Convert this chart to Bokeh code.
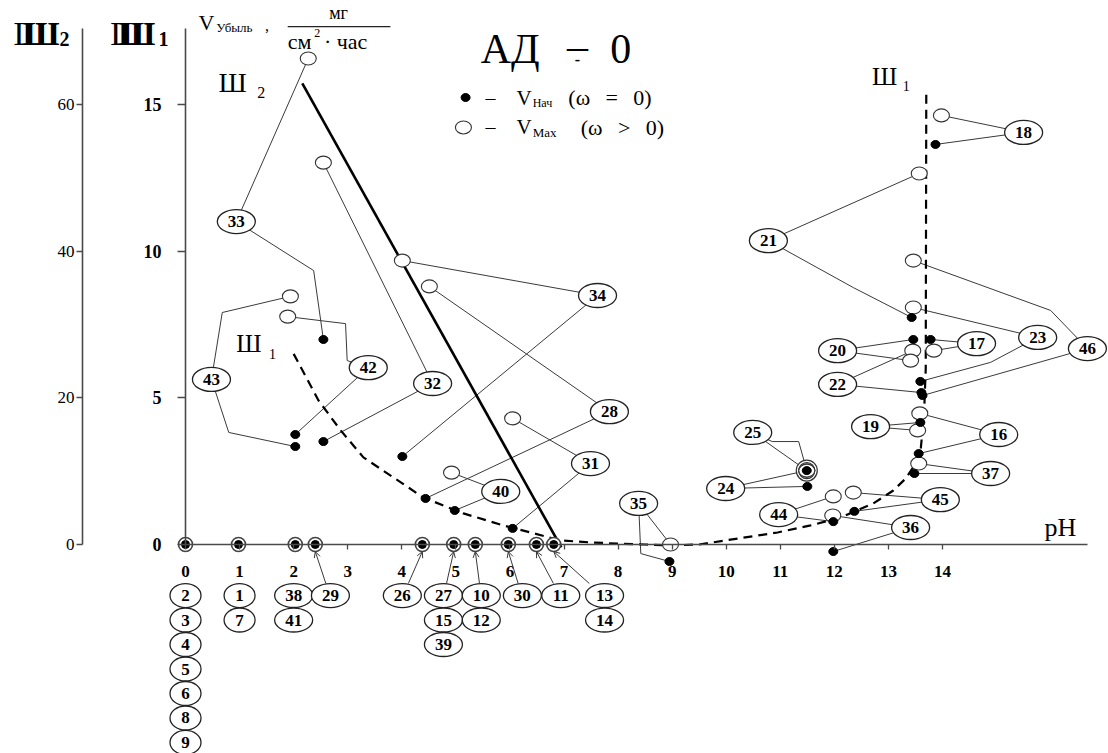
from bokeh.plotting import figure
from bokeh.models import Range1d, LinearAxis, FixedTicker, ColumnDataSource, Arrow, OpenHead
from bokeh.core.properties import value
from bokeh.embed import file_html
from bokeh.resources import INLINE

# ---------------------------------------------------------------- data
# rate scale Ш1 (mg/cm²·h); the outer scale Ш2 is four times larger
SH2_FACTOR = 4.0
sh1_ticks = [0, 5, 10, 15]
sh2_ticks = [0, 20, 40, 60]
ph_ticks = list(range(0, 15))

# Ш2 boundary (solid line)
sh2_ph = [2.16, 6.95]
sh2_v = [15.72, -0.10]

# Ш1 boundary (dashed curve)
sh1_ph = [2.00, 2.46, 2.87, 3.29, 3.85, 4.40, 5.14, 5.88, 6.94, 7.50, 8.00, 8.50,
          9.00, 9.50, 9.99, 10.95, 11.56, 12.11, 12.72, 13.09, 13.32, 13.54,
          13.60, 13.66, 13.69, 13.70]
sh1_v = [6.50, 4.91, 3.89, 2.97, 2.28, 1.60, 1.06, 0.65, 0.14, 0.07, 0.03, 0.00,
         -0.03, 0.00, 0.14, 0.41, 0.65, 0.92, 1.40, 1.84, 2.25, 2.86,
         3.30, 4.50, 6.00, 15.41]

# experiment labels (number and where its tag sits)
lab_id = [33, 32, 43, 42, 34, 28, 31, 40, 35, 25, 24, 44, 36, 45, 37, 16, 19,
          22, 20, 17, 23, 46, 21, 18]
lab_ph = [0.94, 4.57, 0.48, 3.38, 7.62, 7.84, 7.49, 5.83, 8.38, 10.49, 9.99, 10.97,
          13.41, 13.96, 14.89, 15.04, 12.67, 12.06, 12.06, 14.63, 15.76, 16.68,
          10.78, 15.50]
lab_v = [11.01, 5.49, 5.63, 6.03, 8.49, 4.53, 2.76, 1.81, 1.40, 3.82, 1.91, 1.02,
         0.58, 1.53, 2.42, 3.75, 4.02, 5.46, 6.61, 6.85, 7.06, 6.68, 10.36, 14.05]

# V_max (ω > 0), open circles
vmax_id = [33, 32, 43, 42, 34, 28, 31, 40, 35, 25, 24, 44, 36, 45, 37, 16, 19,
           22, 20, 17, 23, 46, 21, 18]
vmax_ph = [2.27, 2.55, 1.94, 1.89, 4.01, 4.51, 6.05, 4.92, 8.97, 11.49, 11.49, 11.98,
           11.97, 12.35, 13.56, 13.58, 13.54, 13.45, 13.41, 13.84, 13.46, 13.46,
           13.57, 13.98]
vmax_v = [16.57, 13.02, 8.46, 7.77, 9.68, 8.80, 4.30, 2.45, 0.00, 2.52, 2.52, 1.64,
          0.99, 1.77, 2.76, 4.47, 3.89, 6.61, 6.27, 6.61, 8.08, 9.68, 12.65, 14.63]

# V_нач (ω = 0), filled dots
vnach_id = [33, 32, 43, 42, 34, 28, 31, 40, 35, 25, 24, 44, 36, 45, 37, 16, 19,
            22, 20, 17, 23, 46, 21, 18]
vnach_ph = [2.55, 2.55, 2.03, 2.03, 4.01, 4.44, 6.05, 4.98, 8.95, 11.49, 11.50, 11.98,
            11.98, 12.37, 13.48, 13.56, 13.59, 13.61, 13.46, 13.78, 13.59, 13.63,
            13.43, 13.87]
vnach_v = [6.99, 3.51, 3.34, 3.75, 3.00, 1.57, 0.55, 1.16, -0.58, 2.52, 1.98, 0.78,
           -0.24, 1.13, 2.42, 3.10, 4.16, 5.18, 6.99, 6.99, 5.56, 5.08, 7.74, 13.64]

# bends of the leader lines, listed from the tag towards the point
bends = {
    (33, "n"): [(2.37, 9.34)],
    (43, "m"): [(0.68, 7.91)],
    (43, "n"): [(0.80, 3.82)],
    (42, "m"): [(2.99, 6.27), (2.96, 7.53)],
    (35, "n"): [(8.42, -0.31)],
    (25, "n"): [(10.85, 3.51), (11.34, 3.51)],
    (23, "n"): [(14.89, 6.21)],
    (46, "m"): [(16.00, 7.98)],
    (21, "n"): [(12.35, 8.76)],
}

# experiments with zero rate: point on the pH axis and the tags stacked below it
zero_ph = [0.00, 0.98, 2.03, 2.40, 4.38, 4.96, 5.36, 5.97, 6.49, 6.81]
zero_groups = [[2, 3, 4, 5, 6, 8, 9], [1, 7], [38, 41], [29], [26], [27, 15, 39],
               [10, 12], [30], [11], [13, 14]]
zero_col_ph = [0.00, 1.00, 2.00, 2.68, 4.01, 4.77, 5.47, 6.23, 6.94, 7.75]
zero_arrow = [False, False, False, True, True, True, True, True, True, True]

# ---------------------------------------------------------------- figure
SERIF = "Liberation Serif"
W, H = 1108, 753
X0, X1 = -3.4215, 17.070
Y0, Y1 = -7.126, 18.548

p = figure(width=W, height=H, x_range=Range1d(X0, X1), y_range=Range1d(Y0, Y1),
           x_axis_location=None, y_axis_location=None, toolbar_location=None,
           output_backend="svg", min_border=0, outline_line_color=None,
           background_fill_color="white", border_fill_color="white")
p.xgrid.grid_line_color = None
p.ygrid.grid_line_color = None
p.extra_y_ranges = {"sh2": Range1d(Y0 * SH2_FACTOR, Y1 * SH2_FACTOR)}

AX_COLOR = "#4a4a4a"


def style_axis(ax, size, bold):
    ax.axis_line_color = AX_COLOR
    ax.axis_line_width = 1.6
    ax.major_tick_line_color = AX_COLOR
    ax.major_tick_line_width = 1.3
    ax.minor_tick_line_color = None
    ax.major_label_text_font = SERIF
    ax.major_label_text_font_size = f"{size}px"
    ax.major_label_text_font_style = "bold" if bold else "normal"
    ax.major_label_text_color = "black"


ax_sh1 = LinearAxis(fixed_location=0, bounds=(0, 17.6), ticker=FixedTicker(ticks=sh1_ticks))
style_axis(ax_sh1, 18, True)
ax_sh1.major_tick_in = 0
ax_sh1.major_tick_out = 8
ax_sh1.major_label_standoff = 16
p.add_layout(ax_sh1, "left")

ax_sh2 = LinearAxis(y_range_name="sh2", fixed_location=-1.905, bounds=(0, 70.4),
                    ticker=FixedTicker(ticks=sh2_ticks))
style_axis(ax_sh2, 17, False)
ax_sh2.major_tick_in = 0
ax_sh2.major_tick_out = 6
ax_sh2.major_label_standoff = 2
p.add_layout(ax_sh2, "left")

ax_ph = LinearAxis(fixed_location=0, bounds=(0, 16.68), ticker=FixedTicker(ticks=ph_ticks))
style_axis(ax_ph, 17, True)
ax_ph.major_tick_in = 0
ax_ph.major_tick_out = 5
ax_ph.major_label_standoff = 17
p.add_layout(ax_ph, "below")


def txt(x, y, s, size, bold=False, align="left", baseline="middle"):
    p.text(x=[x], y=[y], text=[s], text_font=value(SERIF), text_font_size=f"{size}px",
           text_font_style="bold" if bold else "normal", text_align=align,
           text_baseline=baseline, text_color="black")


# ---------------------------------------------------------------- leaders
lab_pos = {i: (x, y) for i, x, y in zip(lab_id, lab_ph, lab_v)}
lxs, lys = [], []
for kind, ids, xs, ys in (("m", vmax_id, vmax_ph, vmax_v), ("n", vnach_id, vnach_ph, vnach_v)):
    for i, x, y in zip(ids, xs, ys):
        path = [lab_pos[i]] + bends.get((i, kind), []) + [(x, y)]
        lxs.append([q[0] for q in path])
        lys.append([q[1] for q in path])
p.multi_line(lxs, lys, line_color="#3a3a3a", line_width=1.0)

# arrows from the stacked tags up to the zero-rate points
ROW0_V = -1.74
ROW_STEP = 0.835
TAG_HALF_V = 0.41
a_src = dict(xs=[], ys=[], xe=[], ye=[])
for px, cx, arrow in zip(zero_ph, zero_col_ph, zero_arrow):
    if not arrow:
        continue
    a_src["xs"].append(cx + 0.3 * (px - cx))
    a_src["ys"].append(ROW0_V + TAG_HALF_V)
    a_src["xe"].append(px)
    a_src["ye"].append(-0.24)
p.add_layout(Arrow(end=OpenHead(size=6, line_width=1.0, line_color="#3a3a3a"),
                   source=ColumnDataSource(a_src), x_start="xs", y_start="ys",
                   x_end="xe", y_end="ye", line_color="#3a3a3a", line_width=1.0))

# ---------------------------------------------------------------- boundaries
p.line(sh2_ph, sh2_v, line_color="black", line_width=2.6)
p.line(sh1_ph, sh1_v, line_color="black", line_width=2.2, line_dash="9 6")

# ---------------------------------------------------------------- points
# zero-rate points on the axis
p.scatter(zero_ph, [0] * len(zero_ph), size=14, marker="circle", fill_color="white",
          line_color="#444444", line_width=1.6)
p.scatter(zero_ph, [0] * len(zero_ph), size=8, marker="circle", fill_color="black",
          line_color="black")

# coincident V_max = V_нач points get extra rings
same_ph, same_v = [], []
nach_pos = {i: (x, y) for i, x, y in zip(vnach_id, vnach_ph, vnach_v)}
for i, x, y in zip(vmax_id, vmax_ph, vmax_v):
    if nach_pos.get(i) == (x, y):
        same_ph.append(x)
        same_v.append(y)
p.scatter(same_ph, same_v, size=21, marker="circle", fill_color="white",
          line_color="#333333", line_width=1.2)
p.scatter(same_ph, same_v, size=16, marker="circle", fill_color="white",
          line_color="#333333", line_width=1.2)

p.ellipse(vmax_ph, vmax_v, width=16, height=13, width_units="screen", height_units="screen",
          fill_color="white", line_color="#333333", line_width=1.1)
p.ellipse(vnach_ph, vnach_v, width=9, height=8, width_units="screen", height_units="screen",
          fill_color="black", line_color="black")

# ---------------------------------------------------------------- experiment tags
tag_x, tag_y, tag_t = [], [], []
for i, x, y in zip(lab_id, lab_ph, lab_v):
    tag_x.append(x)
    tag_y.append(y)
    tag_t.append(str(i))
for col_x, grp in zip(zero_col_ph, zero_groups):
    for k, n in enumerate(grp):
        tag_x.append(col_x)
        tag_y.append(ROW0_V - k * ROW_STEP)
        tag_t.append(str(n))
tag_w = [38 if len(t) > 1 else 31 for t in tag_t]
tags = ColumnDataSource(dict(x=tag_x, y=tag_y, t=tag_t, w=tag_w))
p.ellipse("x", "y", width="w", height=24, width_units="screen", height_units="screen",
          fill_color="white", line_color="#222222", line_width=1.3, source=tags)
p.text("x", "y", text="t", text_font=value(SERIF), text_font_size="17px",
       text_font_style="bold", text_align="center", text_baseline="middle",
       text_color="black", source=tags)

# ---------------------------------------------------------------- texts
# scale titles Ш2 and Ш1 (struck twice)
txt(-3.18, 17.42, "Ш", 34)
txt(-3.02, 17.42, "Ш", 34, bold=True)
txt(-2.33, 17.22, "2", 20, bold=True)
txt(-1.39, 17.42, "Ш", 34)
txt(-1.25, 17.42, "Ш", 34, bold=True)
txt(-0.50, 17.22, "1", 20, bold=True)

# rate unit
txt(0.24, 17.80, "V", 22)
txt(0.57, 17.62, "Убыль", 13)
txt(1.47, 17.70, ",", 16)
txt(2.83, 18.12, "мг", 18, align="center")
p.segment(x0=[1.89], y0=[17.66], x1=[3.79], y1=[17.66], line_color="#222222", line_width=1.3)
txt(1.89, 17.16, "см", 22)
txt(2.38, 17.44, "2", 12)
txt(2.56, 17.16, "· час", 22)

# title
txt(5.46, 16.91, "АД", 42)
txt(7.25, 16.98, "–", 42, align="center")
txt(7.25, 16.55, "-", 16, bold=True, align="center")
txt(8.05, 16.91, "0", 42, align="center")

# legend
p.ellipse([5.18], [15.24], width=9, height=8, width_units="screen", height_units="screen",
          fill_color="black", line_color="black")
p.ellipse([5.14], [14.22], width=16, height=13, width_units="screen", height_units="screen",
          fill_color="white", line_color="#333333", line_width=1.1)
for y in (15.24, 14.22):
    txt(5.64, y, "–", 20, align="center")
    txt(6.12, y, "V", 21)
txt(6.42, 15.07, "Нач", 12)
txt(7.08, 15.24, "(ω\u2002\u2009=\u2002\u20090)", 22)
txt(6.42, 14.05, "Max", 13)
txt(7.31, 14.22, "(ω\u2002\u2009>\u2002\u20090)", 22)

# boundary names
txt(0.87, 15.75, "Ш", 28, align="center")
txt(1.40, 15.41, "2", 16, align="center")
txt(12.93, 15.96, "Ш", 25, align="center")
txt(13.33, 15.62, "1", 14, align="center")
txt(1.17, 6.85, "Ш", 25, align="center")
txt(1.61, 6.51, "1", 14, align="center")

# pH axis name
txt(16.18, 0.58, "pH", 26, align="center")

open("out.html", "w").write(file_html(p, INLINE))
